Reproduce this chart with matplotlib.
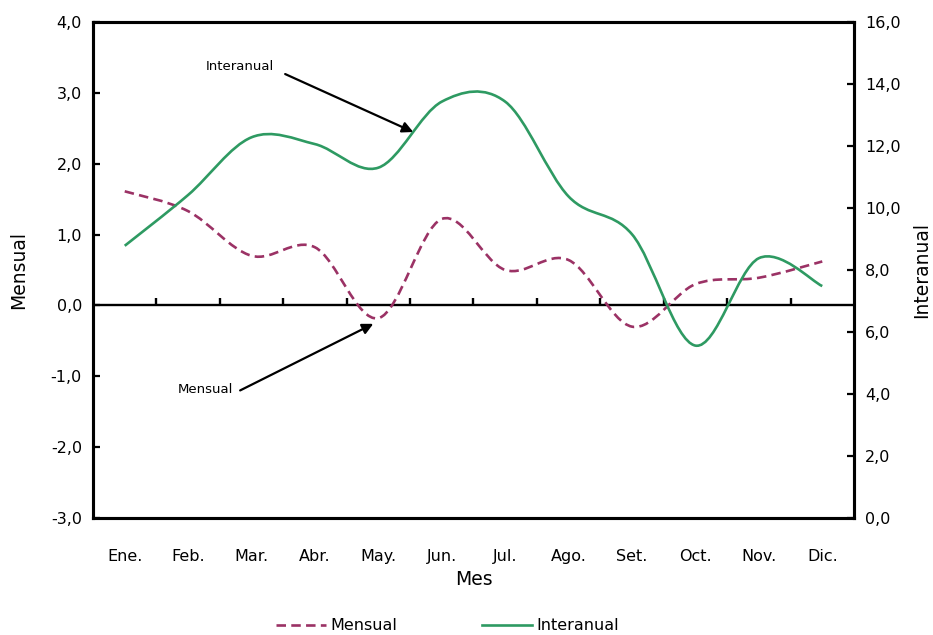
import matplotlib
matplotlib.use("Agg")
import matplotlib.pyplot as plt
from matplotlib.path import Path
from matplotlib.patches import PathPatch
from matplotlib.lines import Line2D
from matplotlib.ticker import FuncFormatter

meses = ['Ene.', 'Feb.', 'Mar.', 'Abr.', 'May.', 'Jun.', 'Jul.', 'Ago.', 'Set.', 'Oct.', 'Nov.', 'Dic.']
mensual = [1.61, 1.33, 0.70, 0.82, -0.18, 1.22, 0.50, 0.64, -0.30, 0.30, 0.39, 0.62]
interanual = [8.78, 10.42, 12.28, 12.06, 11.30, 13.43, 13.43, 10.37, 9.15, 5.56, 8.38, 7.48]

VERDE = '#2e9a62'
GRANATE = '#9b3265'


def curva_suave(xs, ys):
    # catmull-rom passed to matplotlib as cubic bezier segments
    pts = list(zip(xs, ys))
    n = len(pts)
    verts = [pts[0]]
    codes = [Path.MOVETO]
    for i in range(n - 1):
        p0 = pts[i - 1] if i > 0 else pts[i]
        p1 = pts[i]
        p2 = pts[i + 1]
        p3 = pts[i + 2] if i + 2 < n else pts[i + 1]
        c1 = (p1[0] + (p2[0] - p0[0]) / 6, p1[1] + (p2[1] - p0[1]) / 6)
        c2 = (p2[0] - (p3[0] - p1[0]) / 6, p2[1] - (p3[1] - p1[1]) / 6)
        verts += [c1, c2, p2]
        codes += [Path.CURVE4] * 3
    return Path(verts, codes)


coma = FuncFormatter(lambda v, p: f"{v:.1f}".replace('.', ','))

fig = plt.figure(figsize=(9.33, 6.35), dpi=100)
ax = fig.add_axes([0.0997, 0.1843, 0.8156, 0.7811])
ax2 = ax.twinx()

x = list(range(len(meses)))
ax.set_xlim(-0.5, len(meses) - 0.5)
ax.set_ylim(-3, 4)
ax2.set_ylim(0, 16)

ax.axhline(0, color='black', lw=1.7, zorder=1)
fronteras = [i + 0.5 for i in x[:-1]]
ax.vlines(fronteras, 0, 0.1, color='black', lw=1.7, zorder=1)

ax.add_patch(PathPatch(curva_suave(x, mensual), fill=False, edgecolor=GRANATE,
                       lw=1.9, linestyle=(0, (3.6, 2.0)), zorder=3))
ax2.add_patch(PathPatch(curva_suave(x, interanual), fill=False, edgecolor=VERDE,
                        lw=1.9, zorder=3))

ax.set_xticks(x)
ax.set_xticklabels(meses, fontsize=11.5)
ax.tick_params(axis='x', length=0, pad=22)
ax.set_yticks(range(-3, 5))
ax.yaxis.set_major_formatter(coma)
ax.tick_params(axis='y', direction='in', length=5, width=1.6, labelsize=11.5, pad=8)
ax2.set_yticks(range(0, 17, 2))
ax2.yaxis.set_major_formatter(coma)
ax2.tick_params(axis='y', direction='in', length=5, width=1.6, labelsize=11.5, pad=8)

for a in (ax, ax2):
    for s in a.spines.values():
        s.set_linewidth(2.2)

ax.set_xlabel('Mes', fontsize=13.5, labelpad=5)
ax.set_ylabel('Mensual', fontsize=13.5, labelpad=16)
ax2.set_ylabel('Interanual', fontsize=13.5, labelpad=8)

ax2.text(1.82, 14.55, 'Interanual', fontsize=9.5, ha='center', va='center')
ax2.annotate('', xy=(4.55, 12.45), xytext=(2.53, 14.32),
             arrowprops=dict(arrowstyle='-|>', color='black', lw=1.6,
                             mutation_scale=16, shrinkA=0, shrinkB=0))
ax.text(1.28, -1.18, 'Mensual', fontsize=9.5, ha='center', va='center')
ax.annotate('', xy=(3.92, -0.26), xytext=(1.82, -1.20),
            arrowprops=dict(arrowstyle='-|>', color='black', lw=1.6,
                            mutation_scale=16, shrinkA=0, shrinkB=0))

handles = [Line2D([], [], color=GRANATE, lw=1.9, linestyle=(0, (3.6, 2.0))),
           Line2D([], [], color=VERDE, lw=1.9)]
fig.legend(handles, ['Mensual', 'Interanual'], loc='lower center', ncol=2,
           bbox_to_anchor=(0.48, -0.02), frameon=False, fontsize=11.5,
           handlelength=3.1, columnspacing=5.3, handletextpad=0.3)

fig.savefig('out.png', dpi=100)
